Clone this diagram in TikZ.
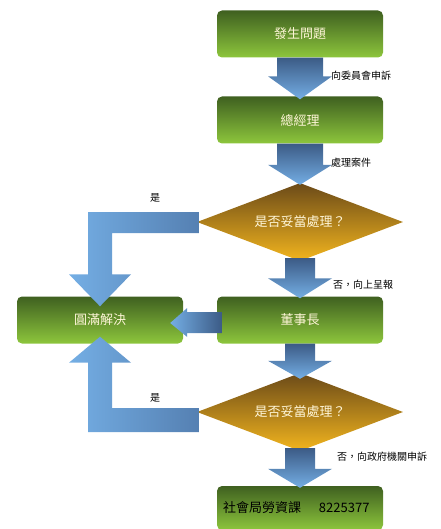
\documentclass[tikz,border=0pt]{standalone}
\usepackage{fontspec}
\newfontfamily\cjk{Noto Sans CJK TC}
\usetikzlibrary{shapes.geometric,calc}
\definecolor{gtop}{HTML}{3F6020}
\definecolor{gbot}{HTML}{8DC63C}
\definecolor{dtop}{HTML}{6B4A18}
\definecolor{dbot}{HTML}{F2B51E}
\definecolor{atop}{HTML}{3C5B86}
\definecolor{abot}{HTML}{74AEE4}
\definecolor{amid}{HTML}{5580B2}
\definecolor{txtlight}{HTML}{FFF6D8}
\begin{document}
\begin{tikzpicture}[x=1pt,y=-1pt,
  stepbox/.style={rectangle, rounded corners=5pt, minimum width=166pt, minimum height=47pt,
    top color=gtop, bottom color=gbot, text=txtlight, font=\cjk\fontsize{13}{15}\selectfont, inner sep=0pt},
  decision/.style={diamond, shape aspect=2.6, minimum width=206pt, minimum height=78pt, inner sep=0pt,
    top color=dtop, bottom color=dbot, text=txtlight, font=\cjk\fontsize{13}{15}\selectfont},
  lbl/.style={font=\cjk\fontsize{10}{12}\selectfont, text=black, inner sep=0pt, anchor=west},
  varrow/.style={top color=atop, bottom color=abot},
  harrow/.style={left color=abot, right color=atop},
  larrow/.style={left color=abot, right color=amid},
]
\useasboundingbox (0,0) rectangle (440,529);

% nodes
\node[stepbox] (b1) at (300,34) {發生問題};
\node[stepbox] (b2) at (300,120) {總經理};
\node[decision] (d1) at (300,222) {是否妥當處理？};
\node[stepbox] (b3) at (100,320) {圓滿解決};
\node[stepbox] (b4) at (300,320) {董事長};
\node[decision] (d2) at (300,412) {是否妥當處理？};
\node[stepbox, minimum height=44pt, text=black, text width=154pt, align=left] (b5) at (300,508)
  {社會局勞資課\hspace{18pt}8225377};

% vertical arrows
\shade[varrow] ($(b1.south)+(-23,0)$) -- ($(b2.north)+(-23,-20)$) -- ($(b2.north)+(-32,-20)$)
  -- ($(b2.north)+(0,3)$) -- ($(b2.north)+(32,-20)$) -- ($(b2.north)+(23,-20)$) -- ($(b1.south)+(23,0)$) -- cycle;
\shade[varrow] ($(b2.south)+(-23,0)$) -- ($(d1.north)+(-23,-18)$) -- ($(d1.north)+(-32,-18)$)
  -- ($(d1.north)+(0,2)$) -- ($(d1.north)+(32,-18)$) -- ($(d1.north)+(23,-18)$) -- ($(b2.south)+(23,0)$) -- cycle;
\shade[varrow] ($(d1.south)+(-15,-3)$) -- ($(b4.north)+(-15,-18)$) -- ($(b4.north)+(-32,-18)$)
  -- ($(b4.north)+(0,2)$) -- ($(b4.north)+(32,-18)$) -- ($(b4.north)+(15,-18)$) -- ($(d1.south)+(15,-3)$) -- cycle;
\shade[varrow] ($(b4.south)+(-15,0)$) -- ($(d2.north)+(-15,-12)$) -- ($(d2.north)+(-32,-12)$)
  -- ($(d2.north)+(0,6)$) -- ($(d2.north)+(32,-12)$) -- ($(d2.north)+(15,-12)$) -- ($(b4.south)+(15,0)$) -- cycle;
\shade[varrow] ($(d2.south)+(-15,-3)$) -- ($(b5.north)+(-15,-17)$) -- ($(b5.north)+(-32,-17)$)
  -- ($(b5.north)+(0,2)$) -- ($(b5.north)+(32,-17)$) -- ($(b5.north)+(15,-17)$) -- ($(d2.south)+(15,-3)$) -- cycle;

% left arrow b4 -> b3
\shade[harrow] ($(b4.west)+(5,-8)$) -- ($(b3.east)+(4,-8)$) -- ($(b3.east)+(4,-12)$)
  -- ($(b3.east)+(-13,3)$) -- ($(b3.east)+(4,17)$) -- ($(b3.east)+(4,13)$) -- ($(b4.west)+(5,13)$) -- cycle;

% L arrow d1 -> b3
\shade[larrow] ($(d1.west)+(2,-10)$) -- ($(b3.north |- d1.west)+(-12,-10)$) -- ($(b3.north)+(-12,-22)$)
  -- ($(b3.north)+(-31,-22)$) -- ($(b3.north)+(0,10)$) -- ($(b3.north)+(31,-22)$) -- ($(b3.north)+(12,-22)$)
  -- ($(b3.north |- d1.west)+(12,11)$) -- ($(d1.west)+(2,11)$) -- cycle;

% L arrow d2 -> b3
\shade[larrow] ($(d2.west)+(2,-4)$) -- ($(b3.south |- d2.west)+(12,-4)$) -- ($(b3.south)+(12,19)$)
  -- ($(b3.south)+(31,19)$) -- ($(b3.south)+(0,-7)$) -- ($(b3.south)+(-31,19)$) -- ($(b3.south)+(-12,19)$)
  -- ($(b3.south |- d2.west)+(-12,20)$) -- ($(d2.west)+(2,20)$) -- cycle;

% labels
\node[lbl] (l1) at (331,76) {向委員會申訴};
\node[lbl] (l2) at (331,163) {處理案件};
\node[lbl] (l3) at (333,285) {否，向上呈報};
\node[lbl] (l4) at (337,457) {否，向政府機關申訴};
\node[lbl, anchor=center] (y1) at (155,198) {是};
\node[lbl, anchor=center] (y2) at (155,398) {是};
\end{tikzpicture}
\end{document}
